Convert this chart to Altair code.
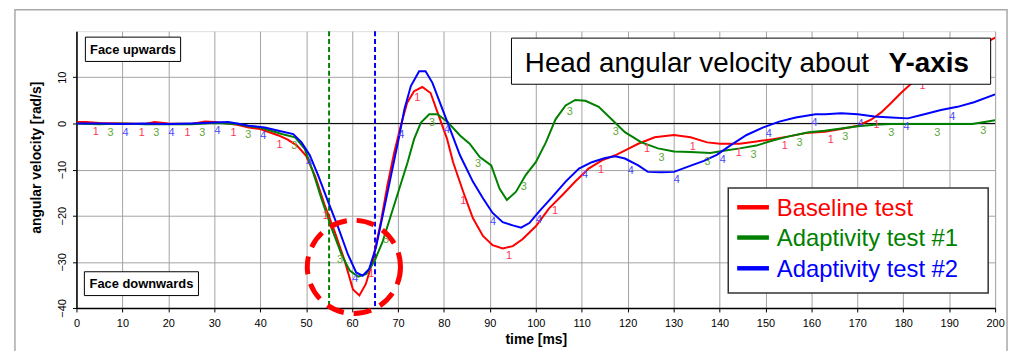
import altair as alt
import pandas as pd
import numpy as np

# ---------------- data ----------------
series_names = ["Baseline test", "Adaptivity test #1", "Adaptivity test #2"]
series_colors = ["#ff0000", "#008000", "#0000ff"]
marker_text = ["1", "3", "4"]
marker_colors = ["#ff3355", "#5fa838", "#4646ff"]
marker_first = [4.2, 7.4, 10.7]      # first marker position (ms), markers every 10 ms
marker_last = [185, 198, 192]        # last visible marker (later ones hide behind the title box)

red_t = [0, 2, 5, 10, 15, 17, 20, 25, 28, 30, 33, 35, 37.5, 40, 42, 44, 46, 48, 50, 52, 54,
         56.2, 58.4, 60.2, 61.6, 63, 64.5, 66.3, 67.7, 69.2, 70.6, 72, 73.5, 75.3, 77.1, 78.9,
         80.7, 82, 84.2, 86.3, 88.5, 90.6, 92.8, 95, 97.1, 100, 102.9, 105.8, 108.6, 111.5,
         114.4, 117.3, 120.1, 122.3, 125.9, 130.1, 133.7, 137.3, 140.1, 144.4, 148, 151.6,
         155.1, 158.7, 162.9, 166.5, 170.1, 173, 175.2, 177.4, 179.5, 181.7, 186, 190, 195, 200]
red_v = [0.3, 0.3, 0.1, 0, -0.1, 0.3, 0, -0.1, 0.4, 0.3, 0, -0.3, -0.9, -1.2, -1.9, -2.6, -3.5,
         -4.8, -7, -11.5, -17.6, -23.4, -29.8, -36, -37.3, -34.8, -29.8, -21.2, -13.4, -6.2,
         -0.5, 4.5, 7, 7.9, 6.6, 1.6, -3.4, -8.4, -14.8, -20.5, -24.4, -26.4, -27.1, -26.6,
         -25.1, -22.3, -18.4, -15.5, -12.6, -9.8, -8, -6.9, -5.5, -4.4, -3, -2.5, -3, -4.1,
         -4.4, -4.4, -3.9, -3.4, -2.8, -2.1, -1.8, -1.2, -0.5, 0.8, 2.4, 4.5, 6.6, 8.6, 11,
         13.2, 15.9, 18.6]

green_t = [0, 5, 10, 15, 20, 25, 30, 35, 37.5, 40, 44.7, 47.6, 49.7, 51.5, 53.3, 55.5, 57.7,
           59.5, 61.3, 63.1, 64.9, 66.7, 68.5, 70.3, 72.1, 73.5, 75, 76.8, 78.6, 80.8, 83.5,
           85.6, 87.8, 90.3, 92.1, 93.7, 95.7, 97.8, 100, 102.2, 104.3, 106.5, 108.6, 110.8,
           113.7, 116.5, 119.4, 123, 126.6, 130.1, 133.7, 138, 140.9, 144.4, 148, 151.6, 155.1,
           159.4, 162.9, 166.5, 170.1, 173.7, 177.4, 185, 195, 200]
green_v = [0, -0.2, 0, -0.2, -0.1, -0.2, 0.1, -0.1, -0.6, -0.9, -2.3, -3, -5.5, -10.5, -16.2,
           -22.6, -28.4, -31.9, -33.2, -32.6, -29.8, -25.5, -19.8, -14.1, -8.4, -3.4, 0.2, 2,
           2, 0.3, -2.6, -4.4, -7.3, -9.1, -14.1, -16.6, -14.8, -11.2, -8.4, -4.1, 0.9, 3.9,
           5.1, 4.9, 3.6, 0.9, -1.9, -4.1, -5.4, -6.1, -6.2, -6.4, -5.9, -5.4, -4.8, -3.7, -2.8,
           -1.9, -1.6, -1.1, -0.6, -0.3, -0.1, -0.1, -0.1, 0.7]

blue_t = [0, 5, 10, 15, 20, 25, 30, 33, 35, 37.5, 41, 44, 47.2, 49, 50.8, 52.6, 54.8, 57, 59.1,
          60.9, 62.3, 63.7, 65.2, 67, 68.8, 70.3, 71.4, 72.8, 74.6, 76, 77.5, 79.3, 80.9, 83.5,
          86.3, 88.5, 90.6, 92.8, 95, 96.8, 98.6, 100.7, 103.6, 106.5, 109.4, 112.2, 115.1,
          117.3, 119.4, 122.3, 124.4, 127.3, 130.1, 133, 136.6, 139.4, 142.3, 145.9, 149.4, 153,
          156.6, 160.9, 163, 166.5, 170.1, 173.7, 177.4, 181, 184.6, 188.2, 191.8, 195.4, 200]
blue_v = [0, 0, -0.1, 0, -0.1, 0, 0.2, 0.3, 0, -0.5, -0.9, -1.6, -2.3, -4.1, -6.9, -11.2, -17,
          -22.6, -28.4, -32.3, -33, -31.6, -26.9, -18.4, -9.8, -2.6, 3.1, 8.1, 11.3, 11.3, 8.8,
          4.1, -0.1, -6.9, -12.6, -16.2, -19.4, -21.4, -22.1, -22.6, -21.6, -19.1, -15.9,
          -12.6, -9.8, -8.4, -7.5, -7.1, -7.6, -9.1, -10.5, -10.6, -10.5, -9.4, -8.1, -6.8,
          -4.8, -2.5, -0.9, 0.4, 1.3, 2, 2, 2.2, 2, 1.5, 1.3, 1.1, 2, 2.9, 3.6, 4.6, 6.3]

x_ticks = list(range(0, 201, 10))
y_ticks = [-40, -30, -20, -10, 0, 10]

event_t = [55, 65]                      # vertical dashed markers (ms)
event_colors = ["#008000", "#0000ff"]
circle_t, circle_v = [60.4], [-31.1]    # red dashed circle centre

# ---------------- tables ----------------
all_t = [red_t, green_t, blue_t]
all_v = [red_v, green_v, blue_v]
rows = []
for name, ts, vs in zip(series_names, all_t, all_v):
    for t, v in zip(ts, vs):
        rows.append({"series": name, "t": t, "v": v})
df = pd.DataFrame(rows)

lab_rows = []
for name, ts, vs, txt_, col, first, last in zip(series_names, all_t, all_v, marker_text,
                                                marker_colors, marker_first, marker_last):
    for tm in np.arange(first, last, 10.0):
        lab_rows.append({"t": float(tm), "v": float(np.interp(tm, ts, vs)), "txt": txt_,
                         "col": col})
df_lab = pd.DataFrame(lab_rows)

df_ev = pd.DataFrame({"t": event_t, "col": event_colors})
df_circ = pd.DataFrame({"t": circle_t, "v": circle_v})
df_zero = pd.DataFrame({"v": [0]})
one = pd.DataFrame({"a": [0]})

FONT = "Liberation Sans"
GRID = "#a3a3a3"

xscale = alt.Scale(domain=[0, 200], nice=False, zero=False)
yscale = alt.Scale(domain=[-40, 20], nice=False, zero=False)

X = alt.X("t:Q", scale=xscale, axis=alt.Axis(
    values=x_ticks, grid=True, gridColor=GRID, gridWidth=1, domainColor="black",
    domainWidth=1.5, tickColor="black", tickSize=4, labelFont=FONT, labelFontSize=11,
    labelColor="black", labelPadding=6, labelFlush=False, labelOverlap=False,
    title="time [ms]", titleFont=FONT, titleFontSize=14, titleFontWeight="bold",
    titleColor="black", titleBaseline="alphabetic", titleY=36))
Y = alt.Y("v:Q", scale=yscale, axis=alt.Axis(
    values=y_ticks, grid=True, gridColor=GRID, gridWidth=1, domainColor="black",
    domainWidth=1.5, tickColor="black", tickSize=4, labelFont=FONT, labelFontSize=11,
    labelColor="black", labelAngle=270, labelAlign="center", labelBaseline="bottom",
    labelPadding=5, labelOverlap=False, labelFlush=False,
    title="angular velocity [rad/s]", titleFont=FONT, titleFontSize=14,
    titleFontWeight="bold", titleColor="black", titleAngle=270, titleAlign="center",
    titleBaseline="alphabetic", titleX=-36, titleY=127))

zero = alt.Chart(df_zero).mark_rule(color="black", strokeWidth=1).encode(y=Y)

events = alt.Chart(df_ev).mark_rule(strokeWidth=2, strokeDash=[5, 3]).encode(
    x=X, color=alt.Color("col:N", scale=None))

lines = alt.Chart(df).mark_line(strokeWidth=2, clip=True).encode(
    x=X, y=Y,
    color=alt.Color("series:N", scale=alt.Scale(domain=series_names, range=series_colors),
                    legend=None))

labels = alt.Chart(df_lab).mark_text(font=FONT, fontSize=11, dy=9, dx=0).encode(
    x=X, y=Y, text="txt:N", color=alt.Color("col:N", scale=None))

circle = alt.Chart(df_circ).mark_point(shape="circle", size=8836, filled=False, color="red",
                                       strokeWidth=5, strokeDash=[18, 10], opacity=1).encode(
    x=X, y=Y)


def box(x1, x2, y1, y2, sw=1, stroke="black"):
    return alt.Chart(one).mark_rect(fill="white", stroke=stroke, strokeWidth=sw).encode(
        x=alt.value(x1), x2=alt.value(x2), y=alt.value(y1), y2=alt.value(y2))


def txt(s, x, y, size, color="black", weight="normal", align="center", baseline="middle"):
    return alt.Chart(one).mark_text(font=FONT, fontSize=size, color=color, fontWeight=weight,
                                    align=align, baseline=baseline).encode(
        x=alt.value(x), y=alt.value(y), text=alt.value(s))


frame = alt.Chart(one).mark_rect(fill=None, stroke="#a8a8a8", strokeWidth=1.5).encode(
    x=alt.value(-62), x2=alt.value(938), y=alt.value(-21.5), y2=alt.value(340))

annot = [
    box(9, 105, 6, 30.5),
    txt("Face upwards", 57, 18.5, 13, weight="bold"),
    box(8, 123, 242.5, 266.5),
    txt("Face downwards", 65.5, 254.5, 13, weight="bold"),
    box(438.5, 921.5, 7, 53.5),
    txt("Head angular velocity about", 452, 41.5, 28, align="left", baseline="alphabetic"),
    txt("Y-axis", 899.5, 41.5, 28, weight="bold", align="right", baseline="alphabetic"),
    box(657, 919, 158, 264, sw=1.5, stroke="#333333"),
]
legend_y = [177.5, 208, 239]
for name, col, ly in zip(series_names, series_colors, legend_y):
    annot.append(alt.Chart(one).mark_rule(color=col, strokeWidth=4.5).encode(
        x=alt.value(666), x2=alt.value(698), y=alt.value(ly)))
    annot.append(txt(name, 706, ly + 2, 24, color=col, align="left"))

chart = alt.layer(frame, zero, events, lines, labels, circle, *annot).properties(
    width=926, height=279,
    autosize=alt.AutoSizeParams(type="none"),
    padding={"left": 69, "top": 22, "right": 15, "bottom": 42},
).configure_view(stroke=GRID, strokeWidth=1).configure(background="white")

chart.save("out.html", embed_options={"renderer": "svg", "actions": False})
